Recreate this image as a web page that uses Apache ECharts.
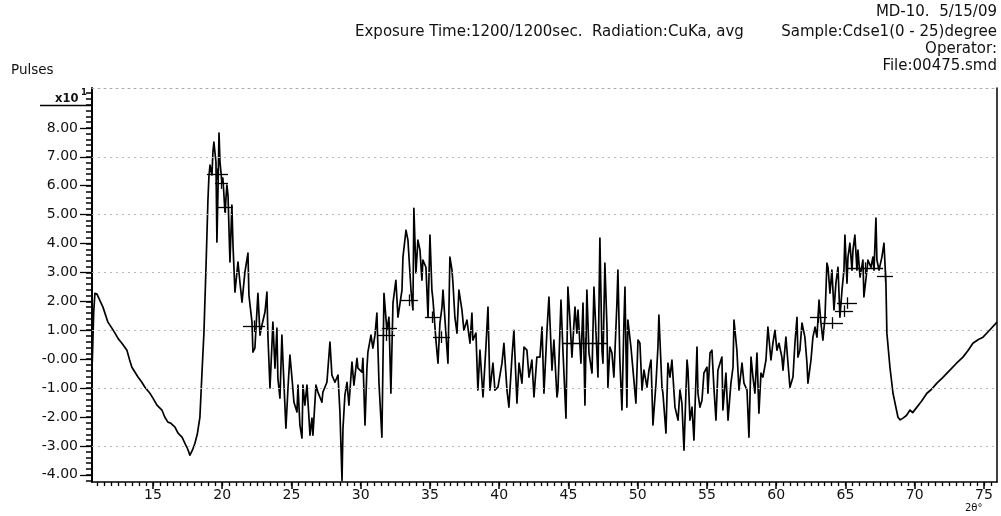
<!DOCTYPE html>
<html>
<head>
<meta charset="utf-8">
<script src="https://cdn.jsdelivr.net/npm/echarts@6/dist/echarts.min.js"></script>
<style>
html,body{margin:0;padding:0;background:#fff;}
#chart{width:1001px;height:516px;}
</style>
</head>
<body>
<div id="chart"></div>
<script>
// ---- data (2θ in degrees, pulses in units of x10^1) ----
const angles = [
10.62,10.72,10.81,10.96,11.20,11.39,11.75,12.00,12.26,12.50,12.76,13.12,13.30,13.48,13.92,14.20,14.42,14.78,15.00,15.29,
15.65,15.85,16.08,16.30,16.59,16.80,16.95,17.10,17.31,17.50,17.67,17.85,18.03,18.20,18.39,18.54,18.68,18.83,18.97,19.04,
19.12,19.26,19.33,19.40,19.55,19.62,19.69,19.77,19.84,19.98,20.05,20.20,20.34,20.42,20.56,20.70,20.78,20.92,21.14,21.28,
21.43,21.64,21.86,21.93,22.15,22.22,22.36,22.58,22.73,22.87,23.09,23.23,23.30,23.45,23.59,23.66,23.81,23.95,24.02,24.17,
24.31,24.39,24.60,24.75,24.89,25.04,25.18,25.40,25.47,25.61,25.76,25.83,25.97,26.12,26.34,26.48,26.55,26.77,26.91,27.20,
27.27,27.56,27.78,27.92,28.14,28.36,28.50,28.65,28.72,28.86,29.01,29.15,29.37,29.51,29.73,29.80,30.09,30.16,30.31,30.45,
30.52,30.74,30.88,31.03,31.17,31.32,31.53,31.68,31.89,32.04,32.18,32.33,32.54,32.69,32.98,33.05,33.27,33.41,33.63,33.77,
33.84,33.99,34.13,34.28,34.42,34.49,34.71,34.86,35.00,35.14,35.22,35.43,35.58,35.72,35.87,35.94,36.15,36.30,36.44,36.59,
36.66,36.80,36.95,37.09,37.31,37.45,37.67,37.89,38.03,38.10,38.32,38.46,38.61,38.83,39.04,39.19,39.33,39.55,39.69,39.91,
40.20,40.34,40.56,40.70,40.92,41.06,41.28,41.43,41.64,41.79,42.00,42.15,42.36,42.51,42.72,42.94,43.09,43.23,43.45,43.59,
43.81,43.95,44.17,44.24,44.46,44.60,44.82,44.96,45.11,45.25,45.47,45.61,45.69,45.90,46.05,46.19,46.33,46.48,46.70,46.84,
46.98,47.13,47.27,47.42,47.49,47.63,47.78,47.85,47.99,48.14,48.28,48.50,48.57,48.71,48.86,49.01,49.08,49.22,49.29,49.51,
49.66,49.87,50.02,50.16,50.31,50.45,50.67,50.81,50.96,51.10,51.32,51.46,51.53,51.75,51.82,52.04,52.18,52.33,52.47,52.69,
52.91,53.05,53.19,53.34,53.56,53.63,53.77,53.92,54.06,54.28,54.35,54.49,54.64,54.78,55.00,55.07,55.22,55.36,55.50,55.65,
55.79,56.01,56.08,56.15,56.37,56.52,56.73,56.88,56.95,57.16,57.31,57.53,57.67,57.89,58.03,58.18,58.32,58.46,58.61,58.75,
58.90,59.04,59.26,59.40,59.62,59.76,59.91,60.05,60.20,60.41,60.49,60.70,60.85,60.99,61.21,61.35,61.50,61.57,61.71,61.86,
62.07,62.22,62.29,62.51,62.65,62.80,62.94,63.09,63.23,63.37,63.52,63.66,63.74,63.88,64.02,64.17,64.31,64.46,64.60,64.75,
64.89,64.96,65.11,65.18,65.32,65.47,65.54,65.68,65.83,65.90,66.05,66.26,66.33,66.55,66.62,66.84,66.98,67.06,67.20,67.27,
67.42,67.63,67.78,67.92,67.99,68.21,68.43,68.79,68.95,69.15,69.40,69.66,69.85,70.16,70.50,70.88,71.20,71.60,72.00,72.54,
73.00,73.48,73.85,74.20,74.60,74.93,75.40,75.94
];
const pulses = [
-0.10,1.60,2.28,2.25,2.00,1.80,1.28,1.10,0.90,0.70,0.55,0.31,0.00,-0.28,-0.62,-0.80,-0.97,-1.18,-1.35,-1.59,
-1.76,-2.00,-2.18,-2.22,-2.35,-2.55,-2.63,-2.70,-2.91,-3.10,-3.32,-3.15,-2.91,-2.60,-2.01,-0.48,0.90,3.18,5.50,6.30,
6.71,6.37,7.16,7.51,6.82,4.05,5.67,7.82,6.82,6.12,6.26,5.09,6.02,5.67,3.36,5.33,3.94,2.32,3.36,2.66,
1.97,3.01,3.67,2.21,1.28,0.24,0.38,2.28,0.83,1.18,1.63,2.32,0.83,-1.00,0.48,1.28,-0.31,1.07,-0.66,-1.35,
0.83,-0.10,-2.39,-1.00,0.14,-0.66,-1.49,-1.83,-0.90,-2.28,-2.73,-0.90,-1.59,-0.90,-2.63,-2.04,-2.63,-0.90,-1.14,-1.49,
-1.14,-0.80,0.59,-0.55,-0.80,-0.55,-1.83,-4.20,-2.39,-1.24,-0.80,-1.59,-0.10,-0.90,0.03,-0.31,-0.45,0.03,-2.28,-0.31,
0.24,0.83,0.38,0.83,1.59,-0.83,-2.70,2.28,1.00,1.45,-1.18,1.94,2.73,1.45,2.39,3.53,4.46,4.12,2.39,1.70,
5.22,2.98,4.12,3.77,2.73,3.43,3.18,1.45,4.29,2.39,2.04,0.66,-0.14,1.25,1.80,2.39,0.90,-0.14,3.53,3.08,
2.63,1.45,0.90,2.39,1.70,1.00,1.35,0.55,1.59,0.66,0.90,-1.07,0.31,-1.31,0.42,1.80,-1.07,-0.14,-1.07,-0.97,
-0.14,0.55,-1.07,-1.66,0.07,1.00,-1.52,-0.14,-0.83,0.42,0.31,-0.62,-0.03,-1.31,0.07,0.07,1.11,-1.18,1.00,2.15,
-0.38,0.66,-1.31,-1.07,2.04,0.31,-2.04,2.49,1.35,0.07,1.80,0.90,1.70,-0.14,1.94,-1.59,2.39,0.21,-0.48,2.49,
1.00,-0.62,4.19,0.31,-0.14,3.32,1.11,-0.97,0.42,0.21,-0.62,1.94,3.08,-0.03,-1.76,1.35,2.49,-1.66,1.35,0.42,
-0.38,-1.52,0.66,0.55,-1.07,-0.38,-0.97,-0.38,-0.03,-2.28,-0.83,0.42,1.52,-0.97,-1.18,-2.56,-0.14,-0.62,-0.03,-1.66,
-2.11,-1.07,-1.52,-3.15,-0.03,-0.38,-2.11,-1.66,-2.80,0.42,-1.18,-1.66,-1.42,-0.48,-0.28,-1.18,0.21,0.31,-0.97,-2.11,
-0.38,-0.03,0.07,-1.76,-0.48,-2.11,-0.83,-0.28,1.35,0.31,-1.07,-0.14,-0.83,-1.07,-2.70,0.07,-0.62,-1.18,0.21,-1.87,
-0.48,-0.62,-0.03,1.11,-0.03,0.55,1.00,0.31,0.55,0.07,-0.38,0.76,-0.14,-0.97,-0.62,0.55,1.45,0.07,0.31,1.25,
0.76,-0.14,-0.83,-0.03,0.76,1.11,0.76,2.04,1.25,0.66,1.45,3.32,3.18,2.28,3.08,1.70,2.63,3.18,1.45,2.39,
3.08,4.29,2.63,3.53,4.01,3.08,3.77,4.29,3.08,3.77,2.84,3.43,2.15,3.08,3.43,3.18,3.53,3.08,4.88,3.43,
3.08,3.53,4.01,2.63,0.90,-0.28,-1.18,-2.01,-2.10,-2.04,-1.95,-1.76,-1.85,-1.66,-1.45,-1.18,-1.05,-0.83,-0.65,-0.38,
-0.15,0.07,0.30,0.55,0.68,0.76,1.00,1.28
];
// peak-search markers (horizontal bars)
const markerStart = [18.90,19.48,19.69,21.50,31.25,31.53,32.83,34.64,35.22,44.60,62.44,63.30,64.24,64.39,65.18,67.27];
const markerEnd   = [20.42,20.42,20.78,23.09,32.47,32.62,34.13,35.72,36.44,47.78,63.66,64.82,65.54,65.83,67.71,68.43];
const markerLevel = [6.40,6.09,5.26,1.14,0.83,1.07,2.04,1.45,0.76,0.55,1.45,1.25,1.66,1.94,3.15,2.87];
// axes
const xMajorTicks = [15,20,25,30,35,40,45,50,55,60,65,70,75];
const yMajorTicks = [-4,-3,-2,-1,0,1,2,3,4,5,6,7,8];
const yTickLabels = ['-4.00','-3.00','-2.00','-1.00','-0.00','1.00','2.00','3.00','4.00','5.00','6.00','7.00','8.00'];
const yGridValues = [-3,-1,1,3,5,7];
const headerLines = ['MD-10.  5/15/09','Sample:Cdse1(0 - 25)degree','Operator:','File:00475.smd'];
const headerLeft = 'Exposure Time:1200/1200sec.  Radiation:CuKa, avg';

const X_MIN = 10.6, X_MAX = 75.94, Y_MIN = -4.25, Y_MAX = 9.38;
const xMinor = []; for (let v = 11; v <= 75.9; v += 0.5) xMinor.push(+v.toFixed(1));
const yMinor = []; for (let v = -4.2; v <= 9.3; v += 0.2) yMinor.push(+v.toFixed(1));

const FONT = '"DejaVu Sans", Verdana, sans-serif';
const seriesData = angles.map((a, i) => [a, pulses[i]]);
const markerBars = markerStart.map((s, i) => [{coord: [s, markerLevel[i]]}, {coord: [markerEnd[i], markerLevel[i]]}]);
const markerTicks = markerStart.map((s, i) => {
  const c = (s + markerEnd[i]) / 2;
  return [{coord: [c, markerLevel[i] - 0.2]}, {coord: [c, markerLevel[i] + 0.2]}];
});

const chart = echarts.init(document.getElementById('chart'), null, {renderer: 'canvas'});
const hdr = {fontFamily: FONT, fontSize: 15, fill: '#111'};
const plainAxis = {axisTick: {show: false}, axisLabel: {show: false}, splitLine: {show: false}};
chart.setOption({
  animation: false,
  backgroundColor: '#fff',
  grid: {left: 92, right: 4, top: 88, bottom: 34, show: false, containLabel: false},
  xAxis: [
    {type: 'value', min: X_MIN, max: X_MAX, position: 'bottom',
     axisLine: {show: true, onZero: false, lineStyle: {color: '#000', width: 1.5}},
     axisTick: {show: true, customValues: xMajorTicks, length: 7, lineStyle: {color: '#000', width: 1.5}},
     axisLabel: {show: true, customValues: xMajorTicks, margin: 6, color: '#111', fontFamily: FONT, fontSize: 14},
     splitLine: {show: false}},
    {type: 'value', min: X_MIN, max: X_MAX, position: 'bottom',
     axisLine: {show: false, onZero: false},
     axisTick: {show: true, customValues: xMinor, length: 4, lineStyle: {color: '#000', width: 1.3}},
     axisLabel: {show: false}, splitLine: {show: false}},
    Object.assign({type: 'value', min: X_MIN, max: X_MAX, position: 'top',
     axisLine: {show: true, onZero: false, lineStyle: {color: '#aaa', width: 1, type: [2, 4]}}}, plainAxis)
  ],
  yAxis: [
    {type: 'value', min: Y_MIN, max: Y_MAX, position: 'left',
     axisLine: {show: true, onZero: false, lineStyle: {color: '#000', width: 2}},
     axisTick: {show: true, customValues: yMajorTicks, length: 12, lineStyle: {color: '#000', width: 1.3}},
     axisLabel: {show: true, customValues: yMajorTicks, margin: 14, color: '#111', fontFamily: FONT, fontSize: 14,
       formatter: v => { const i = yMajorTicks.indexOf(Math.round(v)); return i >= 0 ? yTickLabels[i] : ''; }},
     splitLine: {show: false}},
    {type: 'value', min: Y_MIN, max: Y_MAX, position: 'left',
     axisLine: {show: false, onZero: false},
     axisTick: {show: true, customValues: yMinor, length: 6, lineStyle: {color: '#000', width: 1.5}},
     axisLabel: {show: false}, splitLine: {show: false}},
    Object.assign({type: 'value', min: Y_MIN, max: Y_MAX, position: 'right',
     axisLine: {show: true, onZero: false, lineStyle: {color: '#000', width: 1.5}}}, plainAxis)
  ],
  series: [
    {type: 'line', data: [], xAxisIndex: 0, yAxisIndex: 0, z: 1, silent: true,
     markLine: {silent: true, symbol: 'none', label: {show: false},
       lineStyle: {color: '#b8b8b8', type: [2, 4], width: 1},
       data: yGridValues.map(v => ({yAxis: v}))}},
    {type: 'line', data: seriesData, xAxisIndex: 0, yAxisIndex: 0, z: 3,
     showSymbol: false, symbol: 'none', clip: true,
     lineStyle: {color: '#000', width: 1.7, join: 'round'},
     markLine: {silent: true, symbol: 'none', label: {show: false},
       lineStyle: {color: '#000', type: 'solid', width: 1.3},
       data: markerBars.concat(markerTicks)}}
  ],
  graphic: [
    {type: 'text', right: 4, top: 5, style: Object.assign({text: headerLines[0]}, hdr)},
    {type: 'text', left: 355, top: 25, style: Object.assign({text: headerLeft}, hdr)},
    {type: 'text', right: 4, top: 25, style: Object.assign({text: headerLines[1]}, hdr)},
    {type: 'text', right: 4, top: 42, style: Object.assign({text: headerLines[2]}, hdr)},
    {type: 'text', right: 4, top: 59, style: Object.assign({text: headerLines[3]}, hdr)},
    {type: 'text', left: 11, top: 63, style: {text: 'Pulses', fontFamily: FONT, fontSize: 13.5, fill: '#111'}},
    {type: 'text', left: 55, top: 93, style: {text: 'x10', fontFamily: FONT, fontSize: 11.5, fontWeight: 'bold', fill: '#111'}},
    {type: 'text', left: 81, top: 88, style: {text: '1', fontFamily: FONT, fontSize: 8.5, fontWeight: 'bold', fill: '#111'}},
    {type: 'line', shape: {x1: 40, y1: 105.5, x2: 92, y2: 105.5}, style: {stroke: '#000', lineWidth: 1.3}},
    {type: 'text', left: 965, top: 503, style: {text: '2θ°', fontFamily: FONT, fontSize: 10, fill: '#111'}}
  ]
});
</script>
</body>
</html>
